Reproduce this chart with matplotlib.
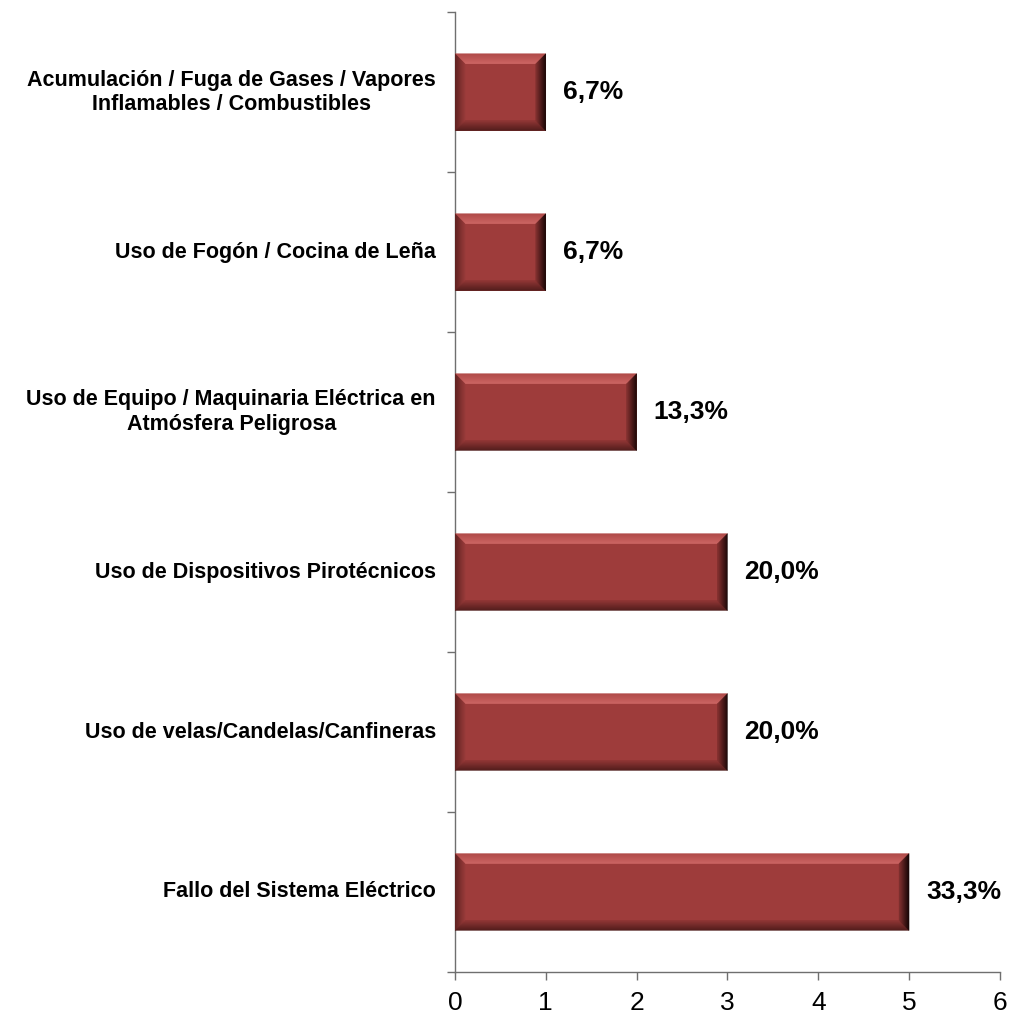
import numpy as np
import matplotlib
matplotlib.use("Agg")
import matplotlib.pyplot as plt
from matplotlib.patches import Polygon
from matplotlib.colors import to_rgb

plt.rcParams["font.family"] = ["Liberation Sans", "DejaVu Sans"]

# data, bottom to top
categories = [
    "Fallo del Sistema Eléctrico",
    "Uso de velas/Candelas/Canfineras",
    "Uso de Dispositivos Pirotécnicos",
    "Uso de Equipo / Maquinaria Eléctrica en\nAtmósfera Peligrosa",
    "Uso de Fogón / Cocina de Leña",
    "Acumulación / Fuga de Gases / Vapores\nInflamables / Combustibles",
]
counts = [5, 3, 3, 2, 1, 1]
pct_labels = ["33,3%", "20,0%", "20,0%", "13,3%", "6,7%", "6,7%"]
xticks = [0, 1, 2, 3, 4, 5, 6]

FACE = "#9e3c3b"
BAR_H = 0.48
BEVEL_PX = 10

fig = plt.figure(figsize=(10.12, 10.15), dpi=100)
left, right, bottom, top = 0.4496, 0.988, 0.0424, 0.988
ax = fig.add_axes([left, bottom, right - left, top - bottom])
ax.set_xlim(0, 6)
ax.set_ylim(-0.5, len(categories) - 0.5)

# data units per pixel
dx = 6 / (1012 * (right - left))
dy = len(categories) / (1015 * (top - bottom))


def mix(c1, c2, t):
    a, b = np.array(to_rgb(c1)), np.array(to_rgb(c2))
    return tuple(a + (b - a) * t)


def bevel_bar(ax, y, w, h):
    x0, x1 = 0, w
    y0, y1 = y - h / 2, y + h / 2
    ax.add_patch(Polygon([(x0, y0), (x1, y0), (x1, y1), (x0, y1)],
                         closed=True, facecolor=FACE, edgecolor="none", zorder=2))
    n = 10
    # (outer colour, inner colour) for each side
    sides = {
        "top": ("#b04b49", "#d06866"),
        "left": ("#5e2221", "#973a39"),
        "right": ("#100303", "#82302f"),
        "bottom": ("#4a1a19", "#8e3534"),
    }
    bx, by = BEVEL_PX * dx, BEVEL_PX * dy
    for k in range(n):
        t0, t1 = k / n, (k + 1) / n
        tm = (k + 0.5) / n
        c = mix(*sides["top"], tm)
        pts = [(x0 + bx * t0, y1 - by * t0), (x1 - bx * t0, y1 - by * t0),
               (x1 - bx * t1, y1 - by * t1), (x0 + bx * t1, y1 - by * t1)]
        ax.add_patch(Polygon(pts, closed=True, facecolor=c, edgecolor=c, lw=0.3, zorder=3))
        c = mix(*sides["bottom"], tm)
        pts = [(x0 + bx * t0, y0 + by * t0), (x1 - bx * t0, y0 + by * t0),
               (x1 - bx * t1, y0 + by * t1), (x0 + bx * t1, y0 + by * t1)]
        ax.add_patch(Polygon(pts, closed=True, facecolor=c, edgecolor=c, lw=0.3, zorder=3))
        c = mix(*sides["left"], tm)
        pts = [(x0 + bx * t0, y0 + by * t0), (x0 + bx * t1, y0 + by * t1),
               (x0 + bx * t1, y1 - by * t1), (x0 + bx * t0, y1 - by * t0)]
        ax.add_patch(Polygon(pts, closed=True, facecolor=c, edgecolor=c, lw=0.3, zorder=3))
        c = mix(*sides["right"], tm)
        pts = [(x1 - bx * t0, y0 + by * t0), (x1 - bx * t1, y0 + by * t1),
               (x1 - bx * t1, y1 - by * t1), (x1 - bx * t0, y1 - by * t0)]
        ax.add_patch(Polygon(pts, closed=True, facecolor=c, edgecolor=c, lw=0.3, zorder=3))


ypos = np.arange(len(categories))
for y, w, lab in zip(ypos, counts, pct_labels):
    bevel_bar(ax, y, w, BAR_H)
    ax.text(w + 17 * dx, y, lab, ha="left", va="center",
            fontsize=19, fontweight="bold", color="black")

for y, cat in zip(ypos, categories):
    ax.text(-19 * dx, y, cat, ha="right", va="center", multialignment="center",
            fontsize=15.5, fontweight="bold", color="black", linespacing=1.2)

for s in ["top", "right"]:
    ax.spines[s].set_visible(False)
for s in ["left", "bottom"]:
    ax.spines[s].set_color("#6f6f6f")
    ax.spines[s].set_linewidth(1.0)

ax.set_xticks(xticks)
ax.set_xticklabels([str(t) for t in xticks], fontsize=19)
ax.set_yticks(np.arange(-0.5, len(categories), 1.0))
ax.set_yticklabels([])
ax.tick_params(axis="x", length=6, width=1.0, color="#6f6f6f", pad=8)
ax.tick_params(axis="y", length=6, width=1.0, color="#6f6f6f")

fig.savefig("out.png", dpi=100)
plt.close(fig)
